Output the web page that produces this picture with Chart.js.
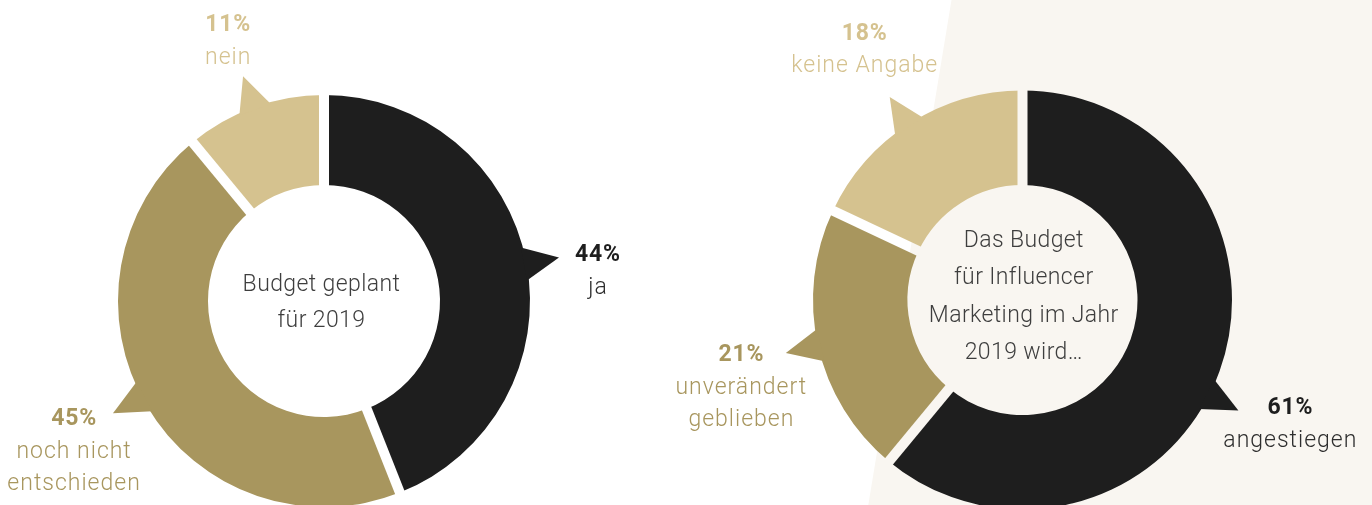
<!DOCTYPE html>
<html lang="de">
<head>
<meta charset="utf-8">
<title>Influencer Marketing Budget 2019</title>
<script src="https://cdn.jsdelivr.net/npm/chart.js@4/dist/chart.umd.min.js"></script>
<style>
  html, body { margin: 0; padding: 0; background: #ffffff; overflow: hidden; }
  #stage { position: relative; width: 1372px; height: 505px; }
  #band {
    position: absolute; left: 0; top: 0; width: 1372px; height: 505px;
    background: #F9F6F1;
    clip-path: polygon(951.5px 0, 1372px 0, 1372px 505px, 868.3px 505px);
  }
  canvas { position: absolute; left: 0; top: 0; }
</style>
</head>
<body>
<div id="stage">
  <div id="band"></div>
  <canvas id="planChart" width="1372" height="505"></canvas>
  <canvas id="trendChart" width="1372" height="505"></canvas>
</div>
<script>
// Budget geplant für 2019
const planCategories = ['ja', 'noch nicht entschieden', 'nein'];
const planLabelLines = [['ja'], ['noch nicht', 'entschieden'], ['nein']];
const planValues = [44, 45, 11];
const planCenterText = ['Budget geplant', 'für 2019'];

// Entwicklung des Budgets für Influencer Marketing 2019
const trendCategories = ['angestiegen', 'unverändert geblieben', 'keine Angabe'];
const trendLabelLines = [['angestiegen'], ['unverändert', 'geblieben'], ['keine Angabe']];
const trendValues = [61, 21, 18];
const trendCenterText = ['Das Budget', 'für Influencer', 'Marketing im Jahr', '2019 wird…'];

const BLACK = '#1E1E1E';
const OLIVE = '#A8965E';
const TAN = '#D5C28F';

const DEG = Math.PI / 180;

// Draws the speech-bubble pointers, cuts the gaps between slices,
// and writes the slice labels and the centre caption.
const calloutPlugin = {
  id: 'callouts',
  afterDatasetsDraw(chart, args, opts) {
    const ctx = chart.ctx;
    const arcs = chart.getDatasetMeta(0).data;
    const ds = chart.data.datasets[0];
    if (!arcs.length) return;
    const { x, y, outerRadius } = arcs[0].getProps(['x', 'y', 'outerRadius'], true);

    ctx.save();

    // pointers
    arcs.forEach((arc, i) => {
      const { startAngle, endAngle } = arc.getProps(['startAngle', 'endAngle'], true);
      const a = (startAngle + endAngle) / 2 + opts.pointerShift[i] * DEG;
      const h = opts.pointerHalf * DEG;
      const rb = outerRadius - 2;
      const rt = outerRadius + opts.pointerLength;
      ctx.beginPath();
      ctx.moveTo(x + Math.cos(a - h) * rb, y + Math.sin(a - h) * rb);
      ctx.lineTo(x + Math.cos(a) * rt, y + Math.sin(a) * rt);
      ctx.lineTo(x + Math.cos(a + h) * rb, y + Math.sin(a + h) * rb);
      ctx.closePath();
      ctx.fillStyle = ds.backgroundColor[i];
      ctx.fill();
    });

    // straight gaps between neighbouring slices
    ctx.globalCompositeOperation = 'destination-out';
    ctx.lineWidth = opts.gap;
    ctx.lineCap = 'butt';
    ctx.strokeStyle = '#000';
    arcs.forEach(arc => {
      const { startAngle } = arc.getProps(['startAngle'], true);
      ctx.beginPath();
      ctx.moveTo(x, y);
      ctx.lineTo(x + Math.cos(startAngle) * (outerRadius + 4), y + Math.sin(startAngle) * (outerRadius + 4));
      ctx.stroke();
    });
    ctx.globalCompositeOperation = 'source-over';

    // slice labels
    ctx.textAlign = 'center';
    ctx.textBaseline = 'alphabetic';
    arcs.forEach((arc, i) => {
      const { startAngle, endAngle } = arc.getProps(['startAngle', 'endAngle'], true);
      const a = (startAngle + endAngle) / 2 + opts.labelShift[i] * DEG;
      const r = outerRadius + opts.labelDist[i];
      const ax = x + Math.cos(a) * r;
      const ay = y + Math.sin(a) * r;
      const lines = [ds.data[i] + '%'].concat(opts.labelLines[i]);
      const top = ay - (lines.length - 1) * opts.labelLineHeight / 2;
      lines.forEach((txt, k) => {
        if (k === 0) {
          ctx.font = '700 23px Roboto, "Noto Sans", sans-serif';
          ctx.letterSpacing = '0.8px';
          ctx.fillStyle = opts.pctColors[i];
        } else {
          ctx.font = '300 23px Roboto, "Noto Sans", sans-serif';
          ctx.letterSpacing = '1px';
          ctx.fillStyle = opts.textColors[i];
        }
        ctx.fillText(txt, ax, top + k * opts.labelLineHeight);
      });
    });

    // centre caption
    ctx.font = '300 23px Roboto, "Noto Sans", sans-serif';
    ctx.letterSpacing = '0.4px';
    ctx.fillStyle = '#3E3E3E';
    const c = opts.centerText;
    const cy = y + opts.centerOffsetY;
    c.forEach((txt, k) => {
      ctx.fillText(txt, x + opts.centerOffsetX, cy + (k - (c.length - 1) / 2) * opts.centerLineHeight);
    });

    ctx.restore();
  }
};

function makeDonut(id, categories, values, outer, inner, padding, callouts) {
  return new Chart(document.getElementById(id), {
    type: 'doughnut',
    data: {
      labels: categories,
      datasets: [{
        data: values,
        backgroundColor: [BLACK, OLIVE, TAN],
        borderWidth: 0,
        clip: false
      }]
    },
    options: {
      responsive: false,
      animation: false,
      events: [],
      radius: outer,
      cutout: (inner / outer * 100) + '%',
      layout: { padding },
      plugins: {
        legend: { display: false },
        tooltip: { enabled: false },
        callouts
      }
    },
    plugins: [calloutPlugin]
  });
}

makeDonut('planChart', planCategories, planValues, 206, 116,
  { left: 0, right: 724, top: 97, bottom: 0 },
  {
    labelLines: planLabelLines,
    centerText: planCenterText,
    pointerShift: [0.3, 2.6, 0],
    pointerHalf: 4.7,
    pointerLength: 33,
    gap: 10,
    labelShift: [5.9, -1.5, -0.9],
    labelDist: [69, 89, 65],
    labelLineHeight: 32.5,
    pctColors: ['#1E1E1E', OLIVE, TAN],
    textColors: ['#2E2E2E', OLIVE, TAN],
    centerOffsetX: -2.5,
    centerOffsetY: 7.7,
    centerLineHeight: 36
  });

makeDonut('trendChart', trendCategories, trendValues, 209.5, 115,
  { left: 673, right: 0, top: 95, bottom: 0 },
  {
    labelLines: trendLabelLines,
    centerText: trendCenterText,
    pointerShift: [7.3, 0, -0.8],
    pointerHalf: 4.6,
    pointerLength: 33,
    gap: 10,
    labelShift: [6.2, -5.8, -0.5],
    labelDist: [88.5, 86.8, 81],
    labelLineHeight: 32.5,
    pctColors: ['#1E1E1E', OLIVE, TAN],
    textColors: ['#2E2E2E', OLIVE, TAN],
    centerOffsetX: 1.3,
    centerOffsetY: 2.9,
    centerLineHeight: 37.2
  });
</script>
</body>
</html>
